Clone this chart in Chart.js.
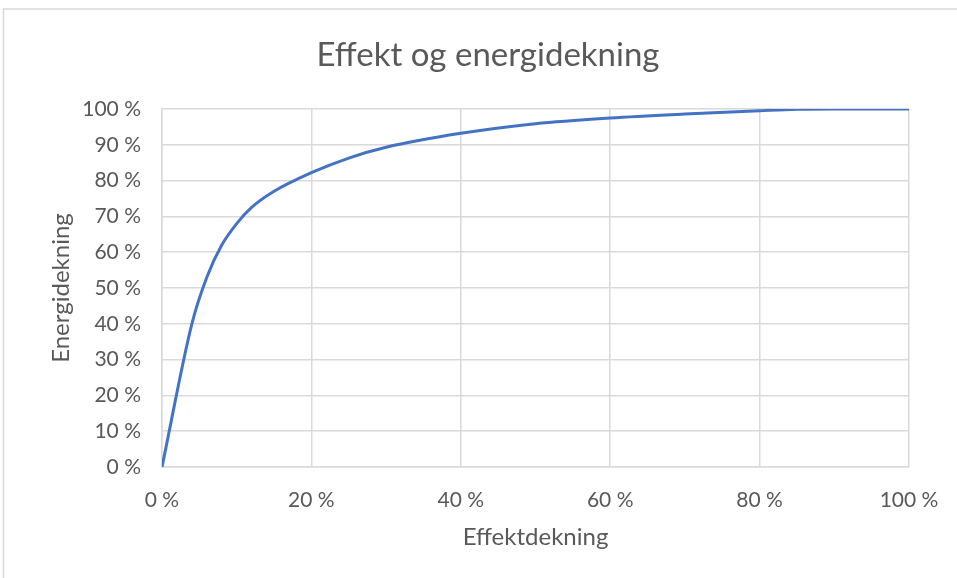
<!DOCTYPE html>
<html>
<head>
<meta charset="utf-8">
<script src="https://cdn.jsdelivr.net/npm/chart.js@4.4.1/dist/chart.umd.min.js"></script>
<style>
  html, body { margin: 0; padding: 0; background: #ffffff; }
  #wrap { position: relative; width: 957px; height: 578px; }
</style>
</head>
<body>
<div id="wrap"><canvas id="c"></canvas></div>
<script>
// Data
const effektdekning = [0, 4, 6, 8, 10, 12, 15, 20, 25, 30, 40, 50, 60, 70, 80, 85, 90, 100];
const energidekning = [0, 40, 53, 62, 68, 72.5, 77, 82.2, 86.3, 89.3, 93.2, 95.9, 97.5, 98.6, 99.5, 99.9, 100, 100];
const xTicks = [0, 20, 40, 60, 80, 100];
const yTicks = [0, 10, 20, 30, 40, 50, 60, 70, 80, 90, 100];
const chartTitle = 'Effekt og energidekning';
const xTitle = 'Effektdekning';
const yTitle = 'Energidekning';

const textColor = '#595959';
const gridColor = '#d9d9d9';

const points = effektdekning.map((x, i) => ({ x: x, y: energidekning[i] }));

const frame = {
  id: 'frame',
  beforeDraw(chart) {
    const ctx = chart.ctx;
    ctx.save();
    ctx.fillStyle = '#ffffff';
    ctx.fillRect(0, 0, chart.width, chart.height);
    ctx.strokeStyle = '#d9d9d9';
    ctx.lineWidth = 1.5;
    ctx.beginPath();
    ctx.moveTo(3.5, chart.height);
    ctx.lineTo(3.5, 9);
    ctx.lineTo(chart.width, 9);
    ctx.stroke();
    ctx.restore();
  },
  afterDraw(chart) {
    const ctx = chart.ctx;
    const a = chart.chartArea;
    ctx.save();
    ctx.fillStyle = textColor;
    ctx.font = '24px Lato';
    ctx.textAlign = 'center';
    ctx.textBaseline = 'middle';
    ctx.translate(61, (a.top + a.bottom) / 2);
    ctx.rotate(-Math.PI / 2);
    ctx.fillText(yTitle, 0, 0);
    ctx.restore();
  }
};

new Chart(document.getElementById('c'), {
  type: 'line',
  data: {
    datasets: [{
      data: points,
      borderColor: '#4472C4',
      borderWidth: 3,
      pointRadius: 0,
      fill: false,
      cubicInterpolationMode: 'monotone'
    }]
  },
  options: {
    responsive: true,
    maintainAspectRatio: false,
    animation: false,
    layout: { padding: { left: 67, right: 48, top: 0, bottom: 0 } },
    plugins: {
      legend: { display: false },
      tooltip: { enabled: false },
      title: {
        display: true,
        text: chartTitle,
        color: textColor,
        font: { family: 'Lato', size: 33, weight: 'normal' },
        padding: { top: 36, bottom: 33.4 }
      }
    },
    scales: {
      x: {
        type: 'linear',
        min: 0, max: 100,
        afterBuildTicks(scale) { scale.ticks = xTicks.map(v => ({ value: v })); },
        afterFit(scale) { scale.height = 111; scale.paddingLeft = 0; scale.paddingRight = 0; },
        grid: { color: gridColor, lineWidth: 1.5, drawTicks: false },
        border: { color: gridColor, width: 1.5 },
        ticks: {
          color: textColor,
          font: { family: 'Lato', size: 21 },
          padding: 21,
          maxRotation: 0,
          callback: v => v + ' %'
        },
        title: {
          display: true,
          text: xTitle,
          color: textColor,
          font: { family: 'Lato', size: 24 },
          padding: { top: 0, bottom: 26.5 }
        }
      },
      y: {
        min: 0, max: 100,
        afterBuildTicks(scale) { scale.ticks = yTicks.map(v => ({ value: v })); },
        afterFit(scale) { scale.width = 95; scale.paddingTop = 0; scale.paddingBottom = 0; },
        grid: { color: gridColor, lineWidth: 1.5, drawTicks: false },
        border: { color: gridColor, width: 1.5 },
        ticks: {
          color: textColor,
          font: { family: 'Lato', size: 21 },
          padding: 21,
          callback: v => v + ' %'
        }
      }
    }
  },
  plugins: [frame]
});
</script>
</body>
</html>
